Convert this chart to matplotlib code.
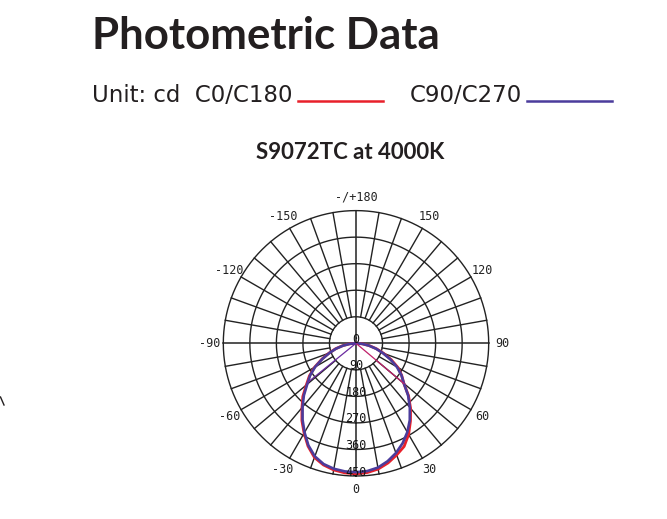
import numpy as np
import matplotlib
matplotlib.use('Agg')
import matplotlib.pyplot as plt
from matplotlib.lines import Line2D
from matplotlib.transforms import offset_copy

# gamma angles (deg) and intensities (cd)
angles = [-90, -85, -80, -75, -70, -65, -60, -55, -50, -45, -40, -35, -30, -25, -20, -15, -10, -5,
          0, 5, 10, 15, 20, 25, 30, 35, 40, 45, 50, 55, 60, 65, 70, 75, 80, 85, 90]
c0_c180 = [0, 22, 46, 72, 98, 128, 162, 193, 220, 255, 285, 320, 352, 385, 412, 427, 436, 441,
           443, 440, 433, 420, 403, 386, 357, 322, 288, 252, 212, 189, 164, 132, 100, 72, 46, 22, 0]
c90_c270 = [0, 20, 44, 70, 96, 126, 160, 190, 216, 250, 282, 316, 349, 382, 408, 424, 432, 436,
            437, 435, 428, 414, 396, 374, 348, 318, 284, 250, 212, 188, 160, 128, 97, 70, 44, 20, 0]

# stray straight segments from the centre in the original drawing
stray_c0 = (50, 212)
stray_c90 = (-51, 210)

rings = [90, 180, 270, 360, 450]
ring_labels = ['0', '90', '180', '270', '360', '450']
angle_ticks = [0, 30, 60, 90, 120, 150, 180, -150, -120, -90, -60, -30]
angle_labels = ['0', '30', '60', '90', '120', '150', '-/+180', '-150', '-120', '-90', '-60', '-30']

W, H = 667, 519
fig = plt.figure(figsize=(W / 100, H / 100), dpi=100)
fig.patch.set_facecolor('white')

def fx(x):
    return x / W

def fy(y):
    return 1 - y / H

# header texts
fig.text(fx(92), fy(49), 'Photometric Data', family='Lato', weight='bold', fontsize=31.5,
         color='#231f20', va='baseline', ha='left')
fig.text(fx(92), fy(102), 'Unit: cd  C0/C180', family='DejaVu Sans', fontsize=16.5,
         color='#231f20', va='baseline', ha='left')
fig.text(fx(410), fy(102), 'C90/C270', family='DejaVu Sans', fontsize=16.5,
         color='#231f20', va='baseline', ha='left')
fig.add_artist(Line2D([fx(298), fx(383)], [fy(101), fy(101)], color='#e8202a', lw=1.8))
fig.add_artist(Line2D([fx(527), fx(612)], [fy(101), fy(101)], color='#4b3c9c', lw=1.8))
fig.text(fx(350), fy(159), 'S9072TC at 4000K', family='Lato', weight='bold', fontsize=16,
         color='#231f20', va='baseline', ha='center')
# small stray mark at the left edge
fig.add_artist(Line2D([fx(0.5), fx(4)], [fy(397), fy(405)], color='#231f20', lw=1))

# polar diagram
cx, cy, R = 356, 343.3, 132.7
ax = fig.add_axes([fx(cx - R), fy(cy + R), 2 * R / W, 2 * R / H], projection='polar')
ax.set_theta_zero_location('S')
ax.set_theta_direction(1)
ax.set_ylim(0, 450)
ax.grid(False)
ax.set_xticks([])
ax.set_yticks([])
ax.spines['polar'].set_visible(False)
ax.patch.set_alpha(0)

grid_col = '#222222'
full = np.linspace(0, 2 * np.pi, 721)
for r in rings:
    ax.plot(full, np.full_like(full, r), color=grid_col, lw=1.0, clip_on=False)
for a in range(0, 360, 10):
    t = np.deg2rad(a)
    r0 = 0 if a % 90 == 0 else rings[0]
    ax.plot([t, t], [r0, 450], color=grid_col, lw=1.0 if a % 90 else 1.1, clip_on=False)

th = np.deg2rad(angles)
ax.plot(th, c0_c180, color='#e8202a', lw=2.0, clip_on=False)
ax.plot(th, c90_c270, color='#4b3c9c', lw=1.9, clip_on=False)
ax.plot(np.deg2rad([stray_c0[0]] * 2), [0, stray_c0[1]], color='#c0206a', lw=0.9)
ax.plot(np.deg2rad([stray_c90[0]] * 2), [0, stray_c90[1]], color='#6a2aa0', lw=0.9)

for a, lab in zip(angle_ticks, angle_labels):
    ax.text(np.deg2rad(a), 495, lab, family='DejaVu Sans Mono', fontsize=8.5,
            color='#222222', ha='center', va='center')

lab_tr = offset_copy(ax.transData, fig=fig, x=0, y=4, units='dots')
for r, lab in zip([0] + rings, ring_labels):
    ax.text(0, r, lab, family='DejaVu Sans Mono', fontsize=8.5, color='#111111',
            ha='center', va='center', transform=lab_tr)

fig.savefig('out.png', dpi=100)
